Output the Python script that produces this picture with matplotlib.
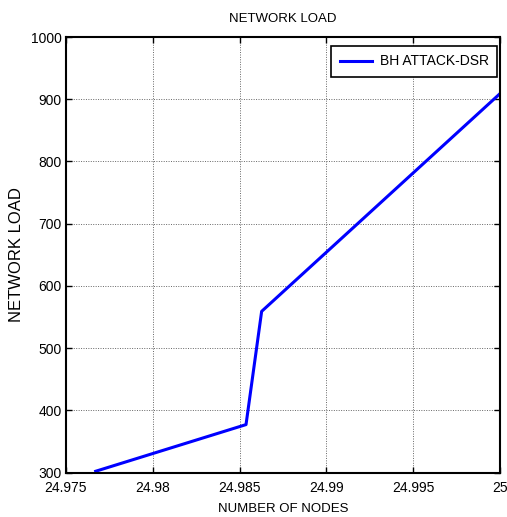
import matplotlib
matplotlib.use('Agg')
import matplotlib.pyplot as plt

# values
num_nodes = [24.97671, 24.98537, 24.98627, 25.0]
net_load = [302, 377, 559, 909]
series_name = 'BH ATTACK-DSR'

plt.rcParams['font.family'] = ['Liberation Sans', 'DejaVu Sans']
plt.rcParams['font.size'] = 9.5

fig = plt.figure(figsize=(5.07, 5.17), dpi=100)
ax = fig.add_axes([66 / 507, 1 - 472.5 / 517, 434 / 507, 435.5 / 517])

ax.plot(num_nodes, net_load, color='#0000ff', linewidth=2.2, label=series_name)

ax.set_xlim(24.975, 25.0)
ax.set_ylim(300, 1000)
ax.set_xticks([24.975, 24.98, 24.985, 24.99, 24.995, 25.0])
ax.set_xticklabels(['24.975', '24.98', '24.985', '24.99', '24.995', '25'])
ax.set_yticks(range(300, 1001, 100))
ax.tick_params(axis='y', labelsize=10)

ax.grid(True, color='#666666', linestyle=(0, (1, 1.5)), linewidth=0.7)
ax.tick_params(direction='in', length=4, width=1, top=True, right=True)
ax.tick_params(axis='x', pad=6, labelsize=10)
ax.tick_params(axis='y', pad=3)
for s in ax.spines.values():
    s.set_linewidth(1.5)

ax.set_title('NETWORK LOAD', fontsize=9.5, pad=11)
ax.set_xlabel('NUMBER OF NODES', labelpad=6)
ax.set_ylabel('NETWORK LOAD', fontsize=12, labelpad=5)

leg = ax.legend(loc='upper right', bbox_to_anchor=(0.994, 0.979), borderaxespad=0,
                fancybox=False, framealpha=1, edgecolor='black',
                borderpad=0.6, handlelength=2.3, handletextpad=0.6, fontsize=10)
leg.get_frame().set_linewidth(1.2)

fig.savefig('out.png', dpi=100)
